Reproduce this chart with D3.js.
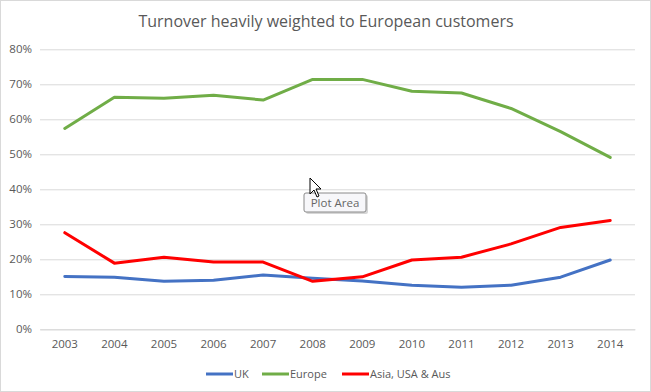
<!DOCTYPE html>
<html><head><meta charset="utf-8">
<script src="https://cdn.jsdelivr.net/npm/d3@7"></script>
<style>
html,body{margin:0;padding:0;background:#fff;}
text{font-family:"Open Sans","Liberation Sans",sans-serif;}
</style></head>
<body><svg id="c" width="651" height="392"></svg>
<script>
const years = ["2003","2004","2005","2006","2007","2008","2009","2010","2011","2012","2013","2014"];
const uk     = [15.1,14.9,13.7,14.0,15.5,14.6,13.8,12.6,12.0,12.6,14.9,19.8];
const europe = [57.4,66.3,66.0,66.9,65.5,71.4,71.4,68.0,67.5,63.1,56.5,49.1];
const asia   = [27.6,18.9,20.6,19.2,19.2,13.7,15.0,19.8,20.6,24.4,29.1,31.1];
const seriesNames = ["UK","Europe","Asia, USA & Aus"];
const seriesColors = ["#4472C4","#70AD47","#FF0000"];
const yTicks = [0,10,20,30,40,50,60,70,80];
const title = "Turnover heavily weighted to European customers";

const svg = d3.select("#c");
svg.append("rect").attr("x",0.5).attr("y",0.5).attr("width",650).attr("height",391)
  .attr("fill","#fff").attr("stroke","#d9d9d9");

const x = d3.scaleBand().domain(years).range([40,635]);
const y = d3.scaleLinear().domain([0,80]).range([329.3,49.3]);

svg.append("text").attr("x",326).attr("y",27).attr("text-anchor","middle")
  .attr("font-size",16).attr("fill","#595959").text(title);

const gy = svg.append("g").attr("transform","translate(40,0)")
  .call(d3.axisLeft(y).tickValues(yTicks).tickSize(-595).tickFormat(d=>d+"%").tickPadding(8));
gy.select(".domain").remove();
gy.selectAll("line").attr("stroke","#d9d9d9");
gy.selectAll("text").attr("fill","#595959").attr("font-size",11.5).attr("font-family","'Open Sans',sans-serif");

const gx = svg.append("g").attr("transform","translate(0,329.3)")
  .call(d3.axisBottom(x).tickSize(0).tickPadding(11));
gx.select(".domain").attr("stroke","#d9d9d9");
gx.selectAll("text").attr("fill","#595959").attr("font-size",11.5).attr("font-family","'Open Sans',sans-serif");

const line = d3.line().x((d,i)=>x(years[i])+x.bandwidth()/2).y(d=>y(d));
[uk,europe,asia].forEach((s,k)=>{
  svg.append("path").datum(s).attr("d",line).attr("fill","none")
    .attr("stroke",seriesColors[k]).attr("stroke-width",3)
    .attr("stroke-linejoin","round").attr("stroke-linecap","round");
});

// legend
const legX = [206,262,342];
seriesNames.forEach((n,k)=>{
  const g = svg.append("g").attr("transform",`translate(${legX[k]},374)`);
  g.append("line").attr("x1",0).attr("x2",27).attr("y1",0).attr("y2",0)
    .attr("stroke",seriesColors[k]).attr("stroke-width",3);
  g.append("text").attr("x",28).attr("y",4).attr("font-size",11).attr("fill","#595959").text(n);
});

// tooltip from screenshot
const tip = svg.append("g");
tip.append("rect").attr("x",306).attr("y",195).attr("width",62).attr("height",19).attr("rx",2)
  .attr("fill","#bbb").attr("opacity",0.6);
tip.append("rect").attr("x",304).attr("y",193).attr("width",62).attr("height",19).attr("rx",2)
  .attr("fill","#f7f7fa").attr("stroke","#8a8a8a");
tip.append("text").attr("x",335).attr("y",207).attr("text-anchor","middle")
  .attr("font-size",11.5).attr("fill","#666").text("Plot Area");
tip.append("path").attr("d","M310,178 L310,194 L314,190 L317,197 L319,196 L316,189 L321,189 Z")
  .attr("fill","#fff").attr("stroke","#000").attr("stroke-width",1);
</script></body></html>
